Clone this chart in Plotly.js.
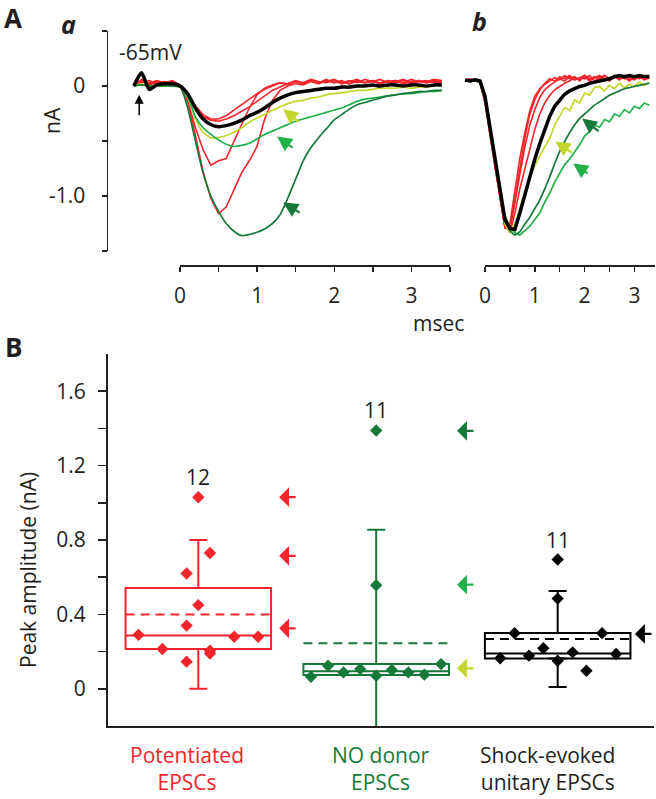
<!DOCTYPE html>
<html>
<head>
<meta charset="utf-8">
<script src="https://cdn.plot.ly/plotly-3.0.1.min.js"></script>
<style>html,body{margin:0;padding:0;background:#fff;}#chart{width:656px;height:799px;}</style>
</head>
<body>
<div id="chart"></div>
<script>
// ---------- Panel A-a : raw EPSC traces (msec, nA) ----------
const tA = [-0.6,-0.5,-0.4,-0.3,-0.2,-0.1,0,0.1,0.2,0.3,0.4,0.5,0.6,0.7,0.8,0.9,1.0,1.1,1.2,1.3,1.4,1.5,1.6,1.7,1.8,1.9,2.0,2.1,2.2,2.3,2.4,2.5,2.6,2.7,2.8,2.9,3.0,3.1,3.2,3.3,3.4];
const blackA = [0.0,0.12,-0.03,0.01,0.02,0.02,0.0,-0.07,-0.2,-0.3,-0.35,-0.37,-0.36,-0.34,-0.31,-0.27,-0.24,-0.2,-0.15,-0.11,-0.08,-0.06,-0.05,-0.04,-0.03,-0.02,-0.02,-0.01,-0.01,0.0,0.0,0.01,0.0,0.01,0.01,0.0,0.01,0.01,0.0,0.01,0.01];
const red1A = [0.0,0.06,0.02,0.04,0.02,0.03,0.0,-0.15,-0.45,-0.78,-1.02,-1.16,-1.1,-0.95,-0.79,-0.68,-0.55,-0.3,-0.13,-0.04,0.0,0.02,0.01,0.04,0.02,0.05,0.03,0.05,0.02,0.04,0.03,0.05,0.02,0.04,0.03,0.05,0.02,0.04,0.03,0.05,0.04];
const red2A = [0.01,0.04,0.03,0.05,0.03,0.04,0.01,-0.14,-0.38,-0.58,-0.72,-0.68,-0.66,-0.5,-0.35,-0.2,-0.08,-0.02,0.01,0.03,0.01,0.04,0.02,0.05,0.03,0.06,0.03,0.04,0.02,0.05,0.03,0.04,0.06,0.03,0.05,0.02,0.04,0.05,0.03,0.04,0.03];
const red3A = [0.02,0.05,0.01,0.03,0.04,0.02,0.0,-0.08,-0.2,-0.28,-0.31,-0.32,-0.3,-0.27,-0.23,-0.19,-0.14,-0.09,-0.04,-0.01,0.02,0.04,0.02,0.05,0.03,0.04,0.06,0.03,0.05,0.03,0.06,0.04,0.03,0.05,0.04,0.06,0.03,0.05,0.04,0.06,0.05];
const red4A = [0.01,0.03,0.05,0.02,0.03,0.05,0.01,-0.07,-0.18,-0.26,-0.3,-0.3,-0.27,-0.22,-0.17,-0.12,-0.07,-0.03,0.0,0.03,0.02,0.05,0.03,0.06,0.04,0.03,0.05,0.02,0.04,0.06,0.03,0.05,0.02,0.04,0.05,0.03,0.06,0.04,0.05,0.03,0.04];
const yellowA = [0.0,0.02,0.0,0.01,0.0,0.0,-0.01,-0.1,-0.3,-0.42,-0.47,-0.47,-0.45,-0.42,-0.38,-0.33,-0.29,-0.26,-0.22,-0.19,-0.16,-0.14,-0.13,-0.11,-0.1,-0.08,-0.07,-0.06,-0.05,-0.04,-0.04,-0.03,-0.02,-0.02,-0.02,-0.01,-0.02,-0.01,-0.01,0.0,0.0];
const midGreenA = [0.0,0.01,0.0,0.0,0.01,0.0,-0.01,-0.1,-0.28,-0.38,-0.44,-0.49,-0.53,-0.55,-0.54,-0.52,-0.48,-0.44,-0.41,-0.38,-0.35,-0.32,-0.3,-0.28,-0.26,-0.24,-0.22,-0.2,-0.17,-0.14,-0.12,-0.11,-0.1,-0.09,-0.08,-0.07,-0.07,-0.06,-0.05,-0.05,-0.04];
const darkGreenA = [0.0,0.01,0.0,0.0,0.0,0.0,0.0,-0.2,-0.5,-0.79,-1.0,-1.14,-1.25,-1.32,-1.36,-1.35,-1.33,-1.3,-1.25,-1.17,-1.02,-0.85,-0.68,-0.56,-0.47,-0.39,-0.31,-0.26,-0.21,-0.17,-0.15,-0.13,-0.11,-0.09,-0.08,-0.07,-0.06,-0.05,-0.05,-0.04,-0.04];

// ---------- Panel A-b : normalized traces ----------
const tB = [-0.4,-0.3,-0.2,-0.1,0.0,0.1,0.2,0.3,0.4,0.5,0.6,0.7,0.8,0.9,1.0,1.1,1.2,1.3,1.4,1.5,1.6,1.7,1.8,1.9,2.0,2.1,2.2,2.3,2.4,2.5,2.6,2.7,2.8,2.9,3.0,3.1,3.2,3.3];
const red1B = [0.0,0.01,0.0,-0.01,-0.2,-0.5,-0.78,-1.05,-1.32,-1.3,-1.02,-0.7,-0.47,-0.27,-0.14,-0.07,-0.03,0.0,0.03,0.01,0.05,0.02,0.04,0.0,0.05,0.02,0.04,0.01,0.05,0.02,0.04,0.01,0.05,0.03,0.01,0.04,0.02,0.03];
const red2B = [0.01,0.0,0.01,-0.02,-0.18,-0.47,-0.76,-1.04,-1.33,-1.36,-1.12,-0.85,-0.6,-0.4,-0.26,-0.15,-0.08,-0.04,-0.01,0.02,0.0,0.04,0.01,0.03,0.05,0.01,0.03,0.04,0.0,0.03,0.05,0.02,0.03,0.0,0.04,0.02,0.05,0.02];
const red3B = [0.0,0.0,0.02,-0.01,-0.16,-0.45,-0.74,-1.02,-1.3,-1.38,-1.2,-0.98,-0.8,-0.6,-0.44,-0.3,-0.2,-0.13,-0.08,-0.05,-0.02,0.0,0.03,0.01,0.04,0.0,0.03,0.05,0.02,0.0,0.04,0.02,0.05,0.01,0.03,0.04,0.01,0.03];
const red4B = [0.01,0.02,0.0,-0.01,-0.19,-0.49,-0.77,-1.06,-1.34,-1.33,-1.08,-0.78,-0.52,-0.3,-0.17,-0.08,-0.02,0.02,0.0,0.04,0.02,0.05,0.01,0.03,0.02,0.05,0.0,0.03,0.05,0.01,0.03,0.05,0.02,0.04,0.03,0.05,0.03,0.04];
const blackB = [0.01,0.0,0.01,0.0,-0.14,-0.43,-0.71,-0.99,-1.26,-1.34,-1.35,-1.2,-1.04,-0.86,-0.71,-0.57,-0.44,-0.32,-0.23,-0.17,-0.12,-0.09,-0.07,-0.05,-0.04,-0.02,-0.01,0.0,0.01,0.02,0.04,0.05,0.04,0.05,0.04,0.05,0.04,0.04];
const yellowB = [0.0,0.01,0.0,-0.01,-0.17,-0.46,-0.75,-1.03,-1.3,-1.38,-1.3,-1.16,-1.0,-0.88,-0.77,-0.68,-0.6,-0.52,-0.4,-0.32,-0.24,-0.27,-0.17,-0.2,-0.11,-0.13,-0.06,-0.05,-0.09,-0.04,-0.07,-0.02,-0.06,-0.03,-0.05,-0.01,-0.04,-0.01];
const darkGreenB = [0.0,0.01,0.0,-0.01,-0.15,-0.44,-0.72,-1.0,-1.25,-1.36,-1.4,-1.37,-1.3,-1.24,-1.16,-1.08,-0.98,-0.87,-0.75,-0.64,-0.55,-0.47,-0.4,-0.34,-0.3,-0.26,-0.22,-0.19,-0.16,-0.13,-0.11,-0.09,-0.07,-0.06,-0.05,-0.04,-0.03,-0.02];
const midGreenB = [0.01,0.0,0.0,-0.01,-0.16,-0.45,-0.74,-1.0,-1.22,-1.33,-1.38,-1.4,-1.36,-1.32,-1.26,-1.2,-1.1,-1.02,-0.92,-0.84,-0.76,-0.71,-0.65,-0.58,-0.5,-0.46,-0.4,-0.42,-0.35,-0.37,-0.3,-0.32,-0.26,-0.29,-0.23,-0.25,-0.2,-0.22];

// ---------- Panel B : peak amplitudes (nA) ----------
const groups = ['Potentiated<br>EPSCs', 'NO donor<br>EPSCs', 'Shock-evoked<br>unitary EPSCs'];
const nCells = [12, 11, 11];
const q1 = [0.214, 0.074, 0.163];
const median = [0.286, 0.095, 0.19];
const q3 = [0.542, 0.133, 0.30];
const mean = [0.40, 0.245, 0.268];
const sd = [0.40, 0.61, 0.258];
const redPts = [1.03, 0.73, 0.62, 0.45, 0.34, 0.29, 0.28, 0.28, 0.214, 0.205, 0.19, 0.146];
const greenPts = [1.389, 0.557, 0.065, 0.124, 0.088, 0.106, 0.07, 0.101, 0.088, 0.076, 0.133];
const blackPts = [0.695, 0.485, 0.299, 0.299, 0.218, 0.196, 0.164, 0.178, 0.151, 0.187, 0.097];
const redArrowVals = [1.03, 0.715, 0.325];
const greenArrowVals = [1.387, 0.56, 0.11];
const blackArrowVals = [0.295];

// ---------- styling ----------
const RED = '#f1252b', DKG = '#16793a', MDG = '#22b04b', YLG = '#c4d62c', BLK = '#000000', INK = '#231f20';
const W = 656, H = 799;
const X = p => p / W, Y = p => 1 - p / H;
const FONT = 'Open Sans, Noto Sans, sans-serif';
const FS = 21;
const catPos = [0, 0.99, 2];
const boxW = 0.81;
const redOff = [0, 0.065, -0.065, 0, -0.065, -0.333, 0.2, 0.333, -0.2, 0.065, 0.065, -0.065];
const greenOff = [0, 0, -0.363, -0.268, -0.182, -0.089, 0, 0.087, 0.179, 0.268, 0.361];
const blackOff = [0, 0, -0.24, 0.247, -0.08, 0.083, -0.32, -0.16, 0, 0.325, 0.16];
const groupColors = [RED, DKG, BLK];
const groupPts = [redPts, greenPts, blackPts];
const groupOff = [redOff, greenOff, blackOff];

const traces = [];
function line(x, y, color, width, xa, ya, shape) {
  traces.push({type: 'scatter', mode: 'lines', x: x, y: y, xaxis: xa, yaxis: ya,
    line: {color: color, width: width, shape: shape || 'linear', smoothing: 0.6}, hoverinfo: 'skip'});
}
// panel a
[red1A, red2A, red3A, red4A].forEach(r => line(tA, r, RED, 1.6, 'x', 'y'));
line(tA, yellowA, YLG, 1.7, 'x', 'y', 'spline');
line(tA, midGreenA, MDG, 1.7, 'x', 'y', 'spline');
line(tA, darkGreenA, DKG, 1.7, 'x', 'y', 'spline');
line(tA, blackA, BLK, 3.5, 'x', 'y', 'spline');
// panel b
[red1B, red2B, red3B, red4B].forEach(r => line(tB, r, RED, 1.6, 'x2', 'y2'));
line(tB, yellowB, YLG, 1.7, 'x2', 'y2');
line(tB, midGreenB, MDG, 1.7, 'x2', 'y2');
line(tB, darkGreenB, DKG, 1.7, 'x2', 'y2', 'spline');
line(tB, blackB, BLK, 3.5, 'x2', 'y2');
// empty traces to realise the detached display axes
traces.push({type: 'scatter', x: [], y: [], xaxis: 'x4', yaxis: 'y', hoverinfo: 'skip'});
traces.push({type: 'scatter', x: [], y: [], xaxis: 'x5', yaxis: 'y2', hoverinfo: 'skip'});

// panel B boxes, mean lines, whiskers, points
for (let i = 0; i < 3; i++) {
  traces.push({type: 'box', x: [catPos[i]], q1: [q1[i]], median: [median[i]], q3: [q3[i]],
    lowerfence: [q1[i]], upperfence: [q3[i]], width: boxW,
    whiskerwidth: 0, boxpoints: false, fillcolor: 'rgba(0,0,0,0)',
    line: {color: groupColors[i], width: 2}, xaxis: 'x3', yaxis: 'y3', hoverinfo: 'skip'});
  traces.push({type: 'scatter', mode: 'lines', x: [catPos[i] - boxW / 2, catPos[i] + boxW / 2],
    y: [mean[i], mean[i]], line: {color: groupColors[i], width: 2, dash: '9px,6px'},
    xaxis: 'x3', yaxis: 'y3', hoverinfo: 'skip'});
  traces.push({type: 'scatter', mode: 'markers', x: [catPos[i], catPos[i]], y: [q3[i], q1[i]],
    marker: {size: 1, color: 'rgba(0,0,0,0)'},
    error_y: {type: 'data', symmetric: false, array: [mean[i] + sd[i] - q3[i], 0],
      arrayminus: [0, q1[i] - (mean[i] - sd[i])], color: groupColors[i], thickness: 2, width: 9},
    xaxis: 'x3', yaxis: 'y3', hoverinfo: 'skip'});
  traces.push({type: 'scatter', mode: 'markers', x: groupOff[i].map(o => catPos[i] + o), y: groupPts[i],
    marker: {symbol: 'diamond', size: 9.5, color: groupColors[i]}, xaxis: 'x3', yaxis: 'y3',
    cliponaxis: false, hoverinfo: 'skip'});
}

const ann = [];
function txt(px, py, text, size, opts) {
  ann.push(Object.assign({xref: 'paper', yref: 'paper', x: X(px), y: Y(py), text: text, showarrow: false,
    xanchor: 'center', yanchor: 'middle', font: {family: FONT, size: size, color: INK}}, opts || {}));
}
txt(13, 18, '<b>A</b>', 26);
txt(68, 24, '<b><i>a</i></b>', 25);
txt(479, 21, '<b><i>b</i></b>', 25);
txt(13, 347, '<b>B</b>', 26);
txt(52, 121, 'nA', FS, {textangle: -90});
txt(150, 52, '-65mV', FS);
txt(438, 323, 'msec', FS);
txt(28, 570, 'Peak amplitude (nA)', FS, {textangle: -90});

function arrow(xref, yref, x, y, ax, ay, color, head, size, width) {
  ann.push({xref: xref, yref: yref, x: x, y: y, ax: ax, ay: ay, axref: 'pixel', ayref: 'pixel',
    text: '', showarrow: true, arrowhead: head, arrowsize: size, arrowwidth: width, arrowcolor: color});
}
// small stimulus arrow
arrow('x', 'y', -0.53, -0.08, 0, 22, BLK, 2, 1.2, 1.5);
// panel a arrows
arrow('x', 'y', 1.34, -0.21, 17, 14, YLG, 2, 1.35, 2.2);
arrow('x', 'y', 1.26, -0.46, 17, 12, MDG, 2, 1.35, 2.2);
arrow('x', 'y', 1.34, -1.06, 18, 11, DKG, 2, 1.35, 2.2);
// panel b arrows
arrow('x2', 'y2', 1.95, -0.34, 18, 14, DKG, 2, 1.35, 2.2);
arrow('x2', 'y2', 1.41, -0.55, 18, 12, YLG, 2, 1.35, 2.2);
arrow('x2', 'y2', 1.77, -0.75, 16, 11, MDG, 2, 1.35, 2.2);
// panel B arrows
redArrowVals.forEach(v => arrow('x3', 'y3', catPos[0] + 0.45, v, 18, 0, RED, 1, 1.5, 2.2));
greenArrowVals.forEach((v, k) => arrow('x3', 'y3', catPos[1] + 0.45, v, 18, 0, [DKG, MDG, YLG][k], 1, 1.5, 2.2));
blackArrowVals.forEach(v => arrow('x3', 'y3', catPos[2] + 0.43, v, 18, 0, BLK, 1, 1.5, 2.2));

// n labels and category labels
const labelShift = [-11, 5, -10];
for (let i = 0; i < 3; i++) {
  ann.push({xref: 'x3', yref: 'y3', x: catPos[i], y: Math.max.apply(null, groupPts[i]), yshift: 20,
    text: String(nCells[i]), showarrow: false, font: {family: FONT, size: FS, color: INK}});
  ann.push({xref: 'x3', yref: 'paper', x: catPos[i], xshift: labelShift[i], y: Y(768), yanchor: 'middle',
    text: groups[i], showarrow: false, align: 'center',
    font: {family: FONT, size: FS, color: groupColors[i] === BLK ? INK : groupColors[i]}});
}

const axBase = {showgrid: false, zeroline: false, fixedrange: true, linecolor: INK, tickcolor: INK,
  tickfont: {family: FONT, size: FS, color: INK}};
const layout = {
  width: W, height: H, margin: {l: 0, r: 0, t: 0, b: 0},
  paper_bgcolor: '#ffffff', plot_bgcolor: 'rgba(0,0,0,0)', showlegend: false,
  font: {family: FONT, size: FS, color: INK},
  xaxis: Object.assign({}, axBase, {domain: [X(108), X(450)], range: [(108 - 180) / 77, (450 - 180) / 77],
    visible: false, anchor: 'y'}),
  yaxis: Object.assign({}, axBase, {domain: [Y(251), Y(31)], range: [-1.5, 0.5], anchor: 'x',
    showline: true, linewidth: 1.5, ticks: 'outside', ticklen: 5, tickwidth: 1.5,
    tickvals: [-1.5, -1, -0.5, 0, 0.5], ticktext: ['', '-1.0', '', '0', ''], ticklabelstandoff: 12}),
  xaxis4: Object.assign({}, axBase, {domain: [X(180), X(450)], range: [0, 3.5], anchor: 'free', position: Y(265),
    showline: true, linewidth: 1.5, ticks: 'outside', ticklen: 5, tickwidth: 1.5,
    tickvals: [0, 0.5, 1, 1.5, 2, 2.5, 3, 3.5], ticktext: ['0', '', '1', '', '2', '', '3', ''], ticklabelstandoff: 6}),
  xaxis2: Object.assign({}, axBase, {domain: [X(460), X(656)], range: [(460 - 485) / 49.8, (656 - 485) / 49.8],
    visible: false, anchor: 'y2'}),
  yaxis2: Object.assign({}, axBase, {domain: [Y(251), Y(31)], range: [-1.5455, 0.4545], visible: false, anchor: 'x2'}),
  xaxis5: Object.assign({}, axBase, {domain: [X(485), X(655)], range: [0, 3.414], anchor: 'free', position: Y(265),
    showline: true, linewidth: 1.5, ticks: 'outside', ticklen: 5, tickwidth: 1.5,
    tickvals: [0, 0.5, 1, 1.5, 2, 2.5, 3], ticktext: ['0', '', '1', '', '2', '', '3'], ticklabelstandoff: 6}),
  xaxis3: Object.assign({}, axBase, {domain: [X(108), X(654)], range: [-0.5025, 2.536], anchor: 'y3',
    showline: true, linewidth: 2, ticks: '', showticklabels: false}),
  yaxis3: Object.assign({}, axBase, {domain: [Y(726), Y(354)], range: [-0.2, 1.8], anchor: 'x3',
    showline: true, linewidth: 2, ticks: 'outside', ticklen: 8, tickwidth: 1.5,
    tickvals: [0, 0.2, 0.4, 0.6, 0.8, 1.0, 1.2, 1.4, 1.6],
    ticktext: ['0', '', '0.4', '', '0.8', '', '1.2', '', '1.6'], ticklabelstandoff: 8}),
  annotations: ann
};
Plotly.newPlot('chart', traces, layout, {displayModeBar: false, staticPlot: true});
</script>
</body>
</html>
